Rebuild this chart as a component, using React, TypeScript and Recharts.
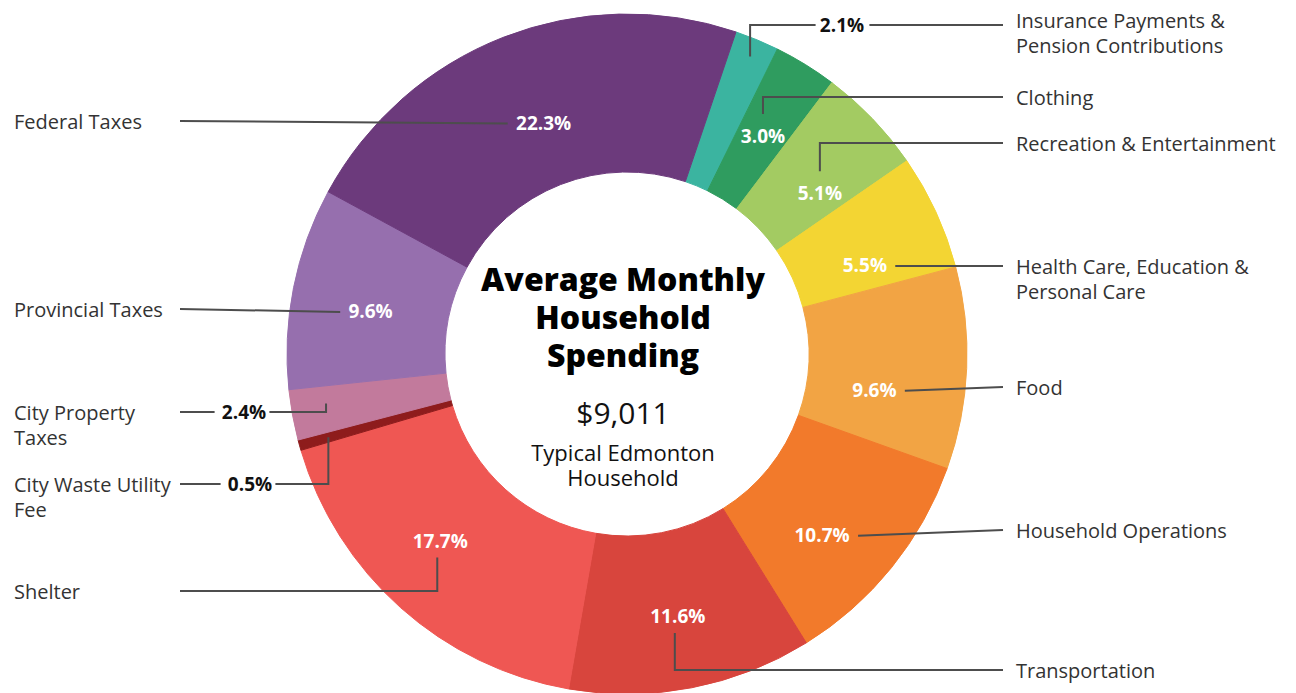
import { PieChart, Pie, Cell, Label } from "recharts";

// Categories in clockwise order, starting just right of 12 o'clock
const categories = [
  "Insurance Payments & Pension Contributions",
  "Clothing",
  "Recreation & Entertainment",
  "Health Care, Education & Personal Care",
  "Food",
  "Household Operations",
  "Transportation",
  "Shelter",
  "City Waste Utility Fee",
  "City Property Taxes",
  "Provincial Taxes",
  "Federal Taxes",
];

const shares = [2.1, 3.0, 5.1, 5.5, 9.6, 10.7, 11.6, 17.7, 0.5, 2.4, 9.6, 22.3];

const categoryLines = [
  ["Insurance Payments &", "Pension Contributions"],
  ["Clothing"],
  ["Recreation & Entertainment"],
  ["Health Care, Education &", "Personal Care"],
  ["Food"],
  ["Household Operations"],
  ["Transportation"],
  ["Shelter"],
  ["City Waste Utility", "Fee"],
  ["City Property", "Taxes"],
  ["Provincial Taxes"],
  ["Federal Taxes"],
];

const sliceColors = [
  "#3bb4a0",
  "#2f9c5f",
  "#a3cb62",
  "#f3d533",
  "#f2a444",
  "#f27a2b",
  "#d8453d",
  "#ef5753",
  "#8e1c1c",
  "#c27a9c",
  "#966fae",
  "#6c3a7c",
];

const data = categories.map((name, i) => ({ name, value: shares[i] }));

const FONT = '"Open Sans", sans-serif';
const TEXT_LEFT = 14;
const TEXT_RIGHT = 1016;
const LINE_LEFT = 180;
const LINE_RIGHT = 1003;
const RAD = Math.PI / 180;

type Callout = {
  side: "left" | "right";
  y: number;
  route: "straight" | "up" | "down" | "outside";
  r: number;
  nudge?: number;
  pctX?: number;
  textDy?: number;
};

// leader routing for each slice (same order as categories)
const callouts: Callout[] = [
  { side: "right", y: 25, route: "outside", r: 322, pctX: 842, textDy: -5 },
  { side: "right", y: 97, route: "up", r: 257, nudge: 0.3 },
  { side: "right", y: 143, route: "up", r: 251, nudge: 4 },
  { side: "right", y: 266, route: "straight", r: 254, nudge: 4.2 },
  { side: "right", y: 387, route: "straight", r: 250, nudge: 5.8 },
  { side: "right", y: 530, route: "straight", r: 266, nudge: 3.9 },
  { side: "right", y: 670, route: "down", r: 267 },
  { side: "left", y: 591, route: "down", r: 264, nudge: 3.3 },
  { side: "left", y: 484, route: "outside", r: 310, pctX: 250 },
  { side: "left", y: 412, route: "outside", r: 305, pctX: 244, nudge: 1 },
  { side: "left", y: 309, route: "straight", r: 260, nudge: -1.7 },
  { side: "left", y: 121, route: "straight", r: 246, nudge: 1.6 },
];

function polar(cx: number, cy: number, r: number, angle: number) {
  return {
    x: cx + r * Math.cos(-angle * RAD),
    y: cy + r * Math.sin(-angle * RAD),
  };
}

function renderCallout(props: any) {
  const { cx, cy, midAngle, index } = props;
  const c = callouts[index];
  const p = polar(cx, cy, c.r, midAngle - (c.nudge ?? 0));
  const pct = `${shares[index].toFixed(1)}%`;
  const half = pct.length * 5.6;
  const lineEnd = c.side === "left" ? LINE_LEFT : LINE_RIGHT;
  const textX = c.side === "left" ? TEXT_LEFT : TEXT_RIGHT;

  let path = "";
  let labelX = p.x;
  let labelY = p.y;
  let outside = false;

  if (c.route === "straight") {
    const startX = c.side === "left" ? p.x - half - 8 : p.x + half + 8;
    path = `M${startX},${p.y + 1} L${lineEnd},${c.y}`;
  } else if (c.route === "up") {
    path = `M${p.x},${p.y - 22} V${c.y} H${lineEnd}`;
  } else if (c.route === "down") {
    path = `M${p.x - 3},${p.y + 17} V${c.y} H${lineEnd}`;
  } else {
    outside = true;
    labelX = c.pctX ?? p.x;
    labelY = c.y;
    const toward = c.side === "left" ? labelX + half + 3 : labelX - half - 4;
    const away = c.side === "left" ? labelX - half - 7 : labelX + half + 5;
    path = `M${p.x},${p.y} V${c.y} H${toward} M${away},${c.y} H${lineEnd}`;
  }

  return (
    <g key={`callout-${index}`}>
      <path d={path} fill="none" stroke="#4d4d4d" strokeWidth={2} />
      <text
        x={labelX}
        y={labelY}
        textAnchor="middle"
        dominantBaseline="central"
        fontFamily={FONT}
        fontSize={19}
        fontWeight={700}
        fill={outside ? "#111111" : "#ffffff"}
      >
        {pct}
      </text>
      {categoryLines[index].map((line, k) => (
        <text
          key={k}
          x={textX}
          y={c.y + (c.textDy ?? 0) + k * 25}
          dominantBaseline="central"
          fontFamily={FONT}
          fontSize={20}
          fill="#333333"
        >
          {line}
        </text>
      ))}
    </g>
  );
}

function CenterText(props: any) {
  const vb = props.viewBox ?? {};
  const cx = (vb.cx ?? 627) - 4;
  const cy = vb.cy ?? 354;
  const title = { fontFamily: FONT, fontSize: 32, fontWeight: 800, fill: "#000" };
  const sub = { fontFamily: FONT, fill: "#111" };
  return (
    <g>
      <text x={cx} y={cy - 76} textAnchor="middle" dominantBaseline="central" {...title}>
        Average Monthly
      </text>
      <text x={cx} y={cy - 38} textAnchor="middle" dominantBaseline="central" {...title}>
        Household
      </text>
      <text x={cx} y={cy} textAnchor="middle" dominantBaseline="central" {...title}>
        Spending
      </text>
      <text x={cx} y={cy + 58} textAnchor="middle" dominantBaseline="central" fontSize={30} {...sub}>
        $9,011
      </text>
      <text x={cx} y={cy + 98} textAnchor="middle" dominantBaseline="central" fontSize={22} {...sub}>
        Typical Edmonton
      </text>
      <text x={cx} y={cy + 123} textAnchor="middle" dominantBaseline="central" fontSize={22} {...sub}>
        Household
      </text>
    </g>
  );
}

export default function App() {
  return (
    <div style={{ position: "absolute", left: 0, top: 0, width: 1296, height: 693, background: "#fff" }}>
      <PieChart width={1296} height={693} margin={{ top: 0, right: 0, bottom: 0, left: 0 }}>
        <Pie
          data={data}
          dataKey="value"
          nameKey="name"
          cx={627}
          cy={354}
          innerRadius={182}
          outerRadius={340}
          startAngle={71.3}
          endAngle={-288.7}
          label={renderCallout}
          labelLine={false}
          isAnimationActive={false}
        >
          {data.map((d, i) => (
            <Cell key={d.name} fill={sliceColors[i]} stroke={sliceColors[i]} strokeWidth={1} />
          ))}
          <Label position="center" content={CenterText} />
        </Pie>
      </PieChart>
    </div>
  );
}
